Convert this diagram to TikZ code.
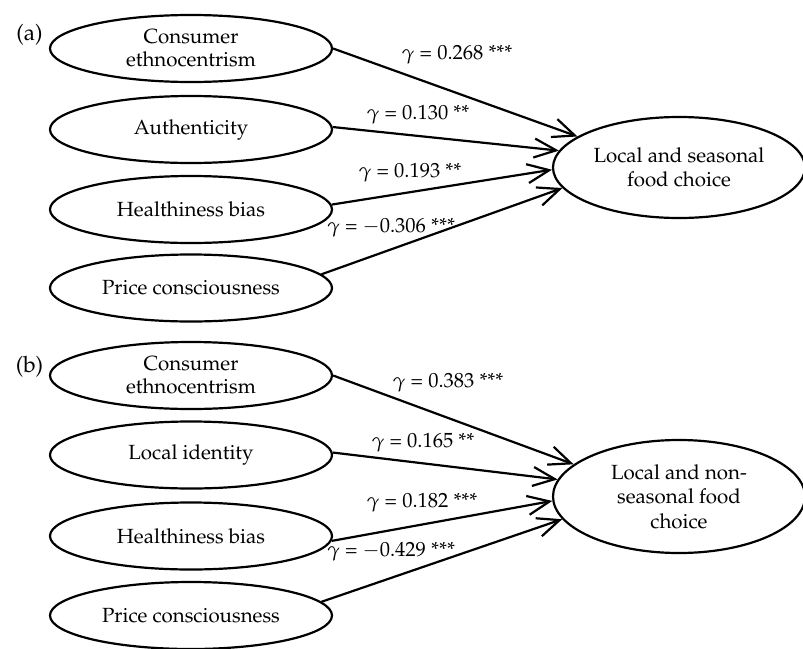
\documentclass[tikz,border=0pt]{standalone}
\usepackage[T1]{fontenc}
\usepackage{mathpazo}
\usetikzlibrary{arrows.meta,shapes.geometric}
\begin{document}
\begin{tikzpicture}[x=1pt,y=-1pt,
  lat/.style={ellipse, draw, line width=2.2pt, minimum width=282pt, minimum height=67pt,
    inner sep=0pt, align=center, font=\fontsize{20.5}{23}\selectfont},
  depvar/.style={ellipse, draw, line width=2.2pt, minimum width=252pt,
    inner sep=0pt, align=center, font=\fontsize{20.5}{24.5}\selectfont},
  conn/.style={line width=2.2pt, -{Straight Barb[length=22pt,width=19pt,line width=2.2pt]}},
  coef/.style={inner sep=0pt, font=\fontsize{20.5}{22}\selectfont},
  plabel/.style={inner sep=0pt, font=\fontsize{22.5}{24}\selectfont}]
\useasboundingbox (0,0) rectangle (803,648);
% panel (a)
\node[plabel] (la) at (29.5,35) {(a)};
\node[lat] (a1) at (191,48.5) {Consumer\\ethnocentrism};
\node[lat] (a2) at (191,129.5) {Authenticity};
\node[lat] (a3) at (191,209.5) {Healthiness bias};
\node[lat] (a4) at (191,288) {Price consciousness};
\node[depvar, minimum height=101pt] (ay) at (679,167.5) {Local and seasonal\\food choice};
\draw[conn] (a1.east) -- (ay.163.6);
\draw[conn] (a2.1.5) -- (ay.172);
\draw[conn] (a3.2) -- (ay.181.4);
\draw[conn] (a4.6) -- (ay.190);
\node[coef] (ca1) at (457,55) {$\gamma$ = 0.268 ***};
\node[coef] (ca2) at (418,115) {$\gamma$ = 0.130 **};
\node[coef] (ca3) at (410,173) {$\gamma$ = 0.193 **};
\node[coef] (ca4) at (391,228) {$\gamma$ = $-$0.306 ***};
% panel (b)
\node[plabel] (lb) at (29.5,367) {(b)};
\node[lat] (b1) at (191,375.5) {Consumer\\ethnocentrism};
\node[lat] (b2) at (191,455) {Local identity};
\node[lat] (b3) at (191,536) {Healthiness bias};
\node[lat] (b4) at (191,615.5) {Price consciousness};
\node[depvar, minimum height=113pt] (by) at (679,496.5) {Local and non-\\seasonal food\\choice};
\draw[conn] (b1.east) -- (by.163.6);
\draw[conn] (b2.1) -- (by.172.3);
\draw[conn] (b3.-2) -- (by.182.7);
\draw[conn] (b4.6) -- (by.191.3);
\node[coef] (cb1) at (448,383) {$\gamma$ = 0.383 ***};
\node[coef] (cb2) at (423,443) {$\gamma$ = 0.165 **};
\node[coef] (cb3) at (422,503) {$\gamma$ = 0.182 ***};
\node[coef] (cb4) at (391,552) {$\gamma$ = $-$0.429 ***};
\end{tikzpicture}
\end{document}
